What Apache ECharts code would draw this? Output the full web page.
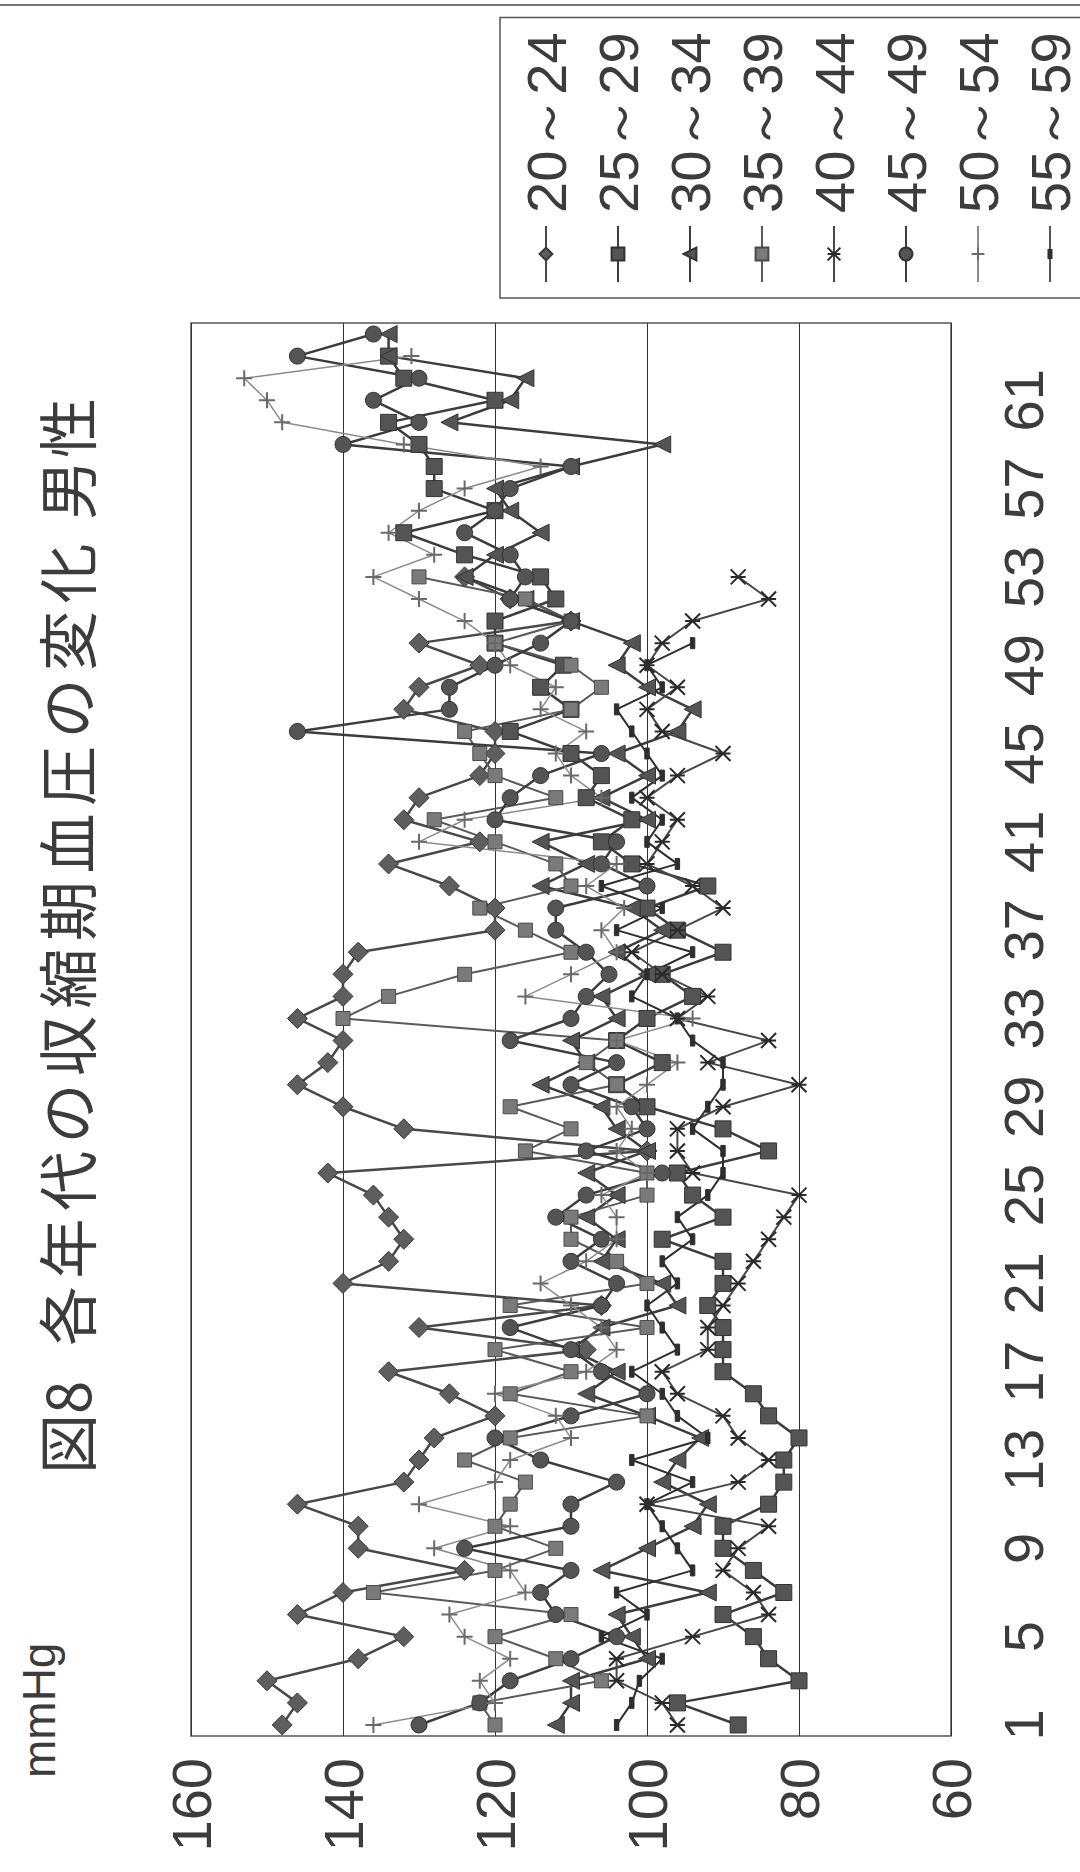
<!DOCTYPE html>
<html>
<head>
<meta charset="utf-8">
<script src="https://cdn.jsdelivr.net/npm/echarts@6/dist/echarts.min.js"></script>
<style>
  html, body { margin: 0; padding: 0; background: #fff; }
  #page { position: absolute; left: 0; top: 0; width: 1080px; height: 1872px; overflow: hidden; background: #fff; }
  /* the chart is laid out landscape and turned a quarter turn counter-clockwise onto the portrait page */
  #chart { position: absolute; left: 0; top: 0; width: 1872px; height: 1080px;
           transform-origin: 0 0; transform: translate(0, 1872px) rotate(-90deg); }
</style>
</head>
<body>
<div id="page"><div id="chart"></div></div>
<script>
// measurement index 1..64 along the category axis
const measurement = Array.from({ length: 64 }, (_, i) => String(i + 1));

// systolic pressure (mmHg) per age band
const age20_24 = [148,146,150,138,132,146,140,124,138,138,146,132,130,128,120,126,134,108,130,106,
                  140,134,132,134,136,142,100,132,140,146,142,140,146,140,140,138,120,120,126,134,
                  122,132,130,122,120,120,132,130,122,130,110,118,124];
const age25_29 = [88,96,80,84,86,90,82,86,90,90,84,82,82,80,84,86,90,90,90,92,
                  90,90,98,90,94,96,84,90,100,104,98,104,100,94,98,90,96,100,92,102,
                  106,102,108,106,110,118,110,114,111,120,120,112,114,124,132,120,128,128,130,134,
                  120,132,134];
const age30_34 = [112,110,110,100,102,104,92,106,100,94,92,98,96,93,100,108,104,110,106,96,
                  98,106,104,108,104,108,100,104,106,114,108,110,104,106,100,104,98,102,114,108,
                  114,100,106,100,104,96,94,100,104,102,110,116,124,120,114,118,120,110,98,126,
                  118,116,134,134];
const age35_39 = [120,122,106,112,120,110,136,120,112,120,118,116,124,118,100,118,110,120,100,118,
                  100,104,110,110,100,100,116,110,118,104,108,104,140,134,124,110,116,122,110,112,
                  120,128,112,120,122,124,110,106,110,120,110,116,130];
const age40_44 = [96,98,104,104,94,84,86,90,88,84,100,88,84,88,90,96,98,92,92,90,
                  88,86,84,82,80,94,96,96,90,80,92,84,96,92,98,102,96,90,94,100,
                  98,96,100,96,90,98,100,96,100,98,94,84,88];
const age45_49 = [130,122,118,110,104,112,114,110,124,110,110,104,114,120,110,100,106,110,118,106,
                  104,110,106,112,108,98,108,100,102,110,104,118,110,108,105,108,112,112,100,106,
                  104,120,118,114,106,146,126,126,120,114,110,118,116,118,124,120,118,110,140,130,
                  136,130,146,136];
const age50_54 = [136,120,122,118,124,126,116,118,128,118,130,120,118,110,112,120,108,104,106,110,
                  114,108,104,104,106,100,104,102,104,100,96,104,94,116,110,104,106,103,108,104,
                  130,124,106,110,112,108,114,112,118,120,124,130,136,128,134,130,124,114,132,148,
                  150,153,131];
const age55_59 = [104,102,101,98,106,100,104,94,96,98,100,94,102,92,96,98,102,96,98,100,
                  96,98,94,96,92,90,90,94,92,90,90,94,96,102,100,94,104,98,106,96,
                  100,98,102,98,100,102,104,98,100,94];

const yTicks = { min: 60, max: 160, step: 20 };

// title pieces
const titleHead = '図8';
const titleBody = '各年代の収縮期血圧の変化';
const titleTail = '男性';

const NUM_FONT = "'Liberation Sans Narrow', 'Liberation Sans', sans-serif";
const JP_FONT = "'Noto Sans CJK JP', sans-serif";
const TEXT_COLOR = '#3c3c3c';

const starPath = 'path://M0,0L10,10M10,0L0,10M5,0L5,10';
const plusPath = 'path://M5,0L5,10M0,5L10,5';
const dashPath = 'path://M0,0L10,0L10,4L0,4Z';
// legend key for the dash marker: a thin line with a short bar, framed to the full 56x16 key box
const dashKey = 'path://M0,7.2h56v1.6h-56zM23,5.5h10v5h-10zM0,0h0.05v0.05h-0.05zM55.95,15.95h0.05v0.05h-0.05z';

const bands = [
  { name: '20～24', data: age20_24, symbol: 'diamond',  size: 20, fill: '#5e5e5e', edge: '#383838', line: '#484848', lw: 2.5 },
  { name: '25～29', data: age25_29, symbol: 'rect',     size: 16, fill: '#545454', edge: '#333',    line: '#3c3c3c', lw: 2.5 },
  { name: '30～34', data: age30_34, symbol: 'triangle', size: 17, fill: '#545454', edge: '#333',    line: '#3c3c3c', lw: 2.5 },
  { name: '35～39', data: age35_39, symbol: 'rect',     size: 14, fill: '#7a7a7a', edge: '#4a4a4a', line: '#5a5a5a', lw: 2 },
  { name: '40～44', data: age40_44, symbol: starPath,   size: 15, fill: 'none',    edge: '#2a2a2a', line: '#484848', lw: 2 },
  { name: '45～49', data: age45_49, symbol: 'circle',   size: 16, fill: '#545454', edge: '#333',    line: '#3c3c3c', lw: 2.5 },
  { name: '50～54', data: age50_54, symbol: plusPath,   size: 16, fill: 'none',    edge: '#6a6a6a', line: '#8c8c8c', lw: 1.5 },
  { name: '55～59', data: age55_59, symbol: dashPath,   size: 11, fill: '#2e2e2e', edge: '#2e2e2e', line: '#2e2e2e', lw: 2, key: dashKey }
];

// title laid out glyph by glyph with a little extra tracking
const titleGlyphs = [];
titleGlyphs.push({ type: 'text', left: 398, top: 34, style: { text: titleHead, fontSize: 60, fontFamily: JP_FONT, fill: TEXT_COLOR } });
Array.from(titleBody).forEach((ch, i) => {
  titleGlyphs.push({ type: 'text', left: 526 + i * 67.5, top: 34, style: { text: ch, fontSize: 60, fontFamily: JP_FONT, fill: TEXT_COLOR } });
});
Array.from(titleTail).forEach((ch, i) => {
  titleGlyphs.push({ type: 'text', left: 1352 + i * 62, top: 34, style: { text: ch, fontSize: 60, fontFamily: JP_FONT, fill: TEXT_COLOR } });
});

const chart = echarts.init(document.getElementById('chart'), null, { renderer: 'svg', width: 1872, height: 1080 });

chart.setOption({
  animation: false,
  backgroundColor: '#fff',
  grid: { left: 136, right: 323, top: 191, bottom: 129, show: true, borderColor: '#555', borderWidth: 1.5, backgroundColor: 'transparent' },
  xAxis: {
    type: 'category',
    data: measurement,
    boundaryGap: true,
    axisLine: { show: false },
    axisTick: { show: false },
    axisLabel: { interval: 3, margin: 44, fontSize: 56, fontFamily: NUM_FONT, color: TEXT_COLOR },
    splitLine: { show: false }
  },
  yAxis: {
    type: 'value',
    min: yTicks.min, max: yTicks.max, interval: yTicks.step,
    axisLine: { show: false },
    axisTick: { show: false },
    axisLabel: { margin: 22, fontSize: 56, fontFamily: NUM_FONT, color: TEXT_COLOR },
    splitLine: { show: true, lineStyle: { color: '#333', width: 1 } }
  },
  legend: {
    orient: 'vertical',
    left: 1574, top: 500, height: 640,
    padding: [18, 15, 18, 15],
    itemWidth: 56, itemHeight: 16, itemGap: 16,
    borderColor: '#555', borderWidth: 1.5,
    textStyle: { fontSize: 56, fontFamily: NUM_FONT, color: TEXT_COLOR, padding: [0, 0, 0, 8] },
    data: bands.map(b => (b.key ? { name: b.name, icon: b.key, itemStyle: { borderWidth: 0 } } : b.name))
  },
  graphic: titleGlyphs.concat([
    { type: 'text', left: 94, top: 16, style: { text: 'mmHg', fontSize: 46, fontFamily: NUM_FONT, fill: TEXT_COLOR } },
    { type: 'line', shape: { x1: 1867, y1: 0, x2: 1867, y2: 1080 }, style: { stroke: '#777', lineWidth: 2 } }
  ]),
  series: bands.map(b => ({
    name: b.name,
    type: 'line',
    data: b.data,
    symbol: b.symbol,
    symbolSize: b.size,
    symbolKeepAspect: true,
    showAllSymbol: true,
    connectNulls: false,
    lineStyle: { color: b.line, width: b.lw },
    itemStyle: { color: b.fill, borderColor: b.edge, borderWidth: (b.fill === 'none') ? 2 : 1 },
    emphasis: { disabled: true }
  }))
});
</script>
</body>
</html>
